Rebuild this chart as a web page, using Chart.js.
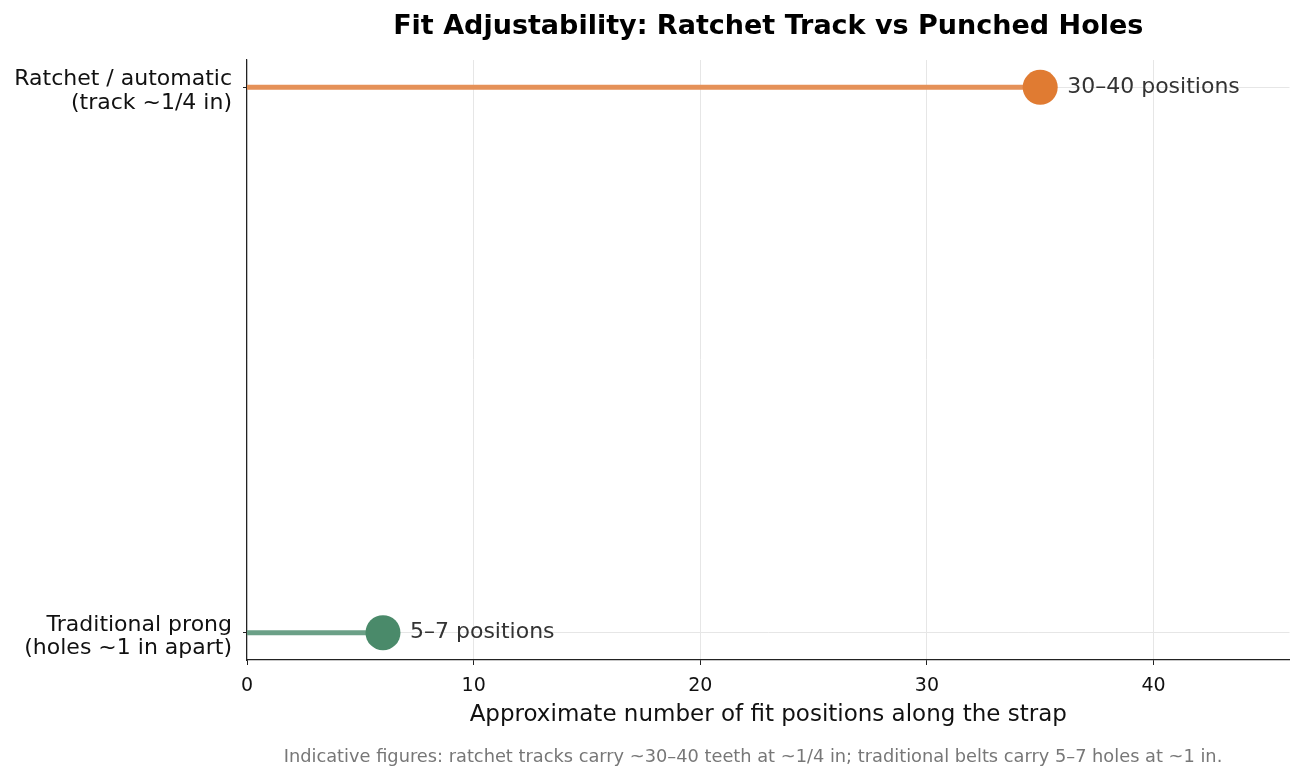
<!DOCTYPE html>
<html>
<head>
<meta charset="utf-8">
<script src="https://cdn.jsdelivr.net/npm/chart.js@4/dist/chart.umd.min.js"></script>
<style>
  body { margin: 0; background: #fff; }
</style>
</head>
<body>
<canvas id="chart" width="1307" height="781"></canvas>
<script>
// categories bottom to top (y = 0, 1)
var categories = [["Traditional prong", "(holes ~1 in apart)"], ["Ratchet / automatic", "(track ~1/4 in)"]];
var positions = [6, 35];
var valueLabels = ["5–7 positions", "30–40 positions"];
var dotColors = ["#4a8a6a", "#e07b32"];
var stemColors = ["#6ba087", "#e59158"];
var xTicks = [0, 10, 20, 30, 40];

var FONT = "'DejaVu Sans', sans-serif";

var datasets = [];
for (var i = 0; i < categories.length; i++) {
    datasets.push({
        data: [{x: 0, y: i}, {x: positions[i], y: i}],
        showLine: true,
        borderColor: stemColors[i],
        borderWidth: 5,
        pointRadius: 0,
        order: 2,
        clip: false
    });
}
for (var j = 0; j < categories.length; j++) {
    datasets.push({
        data: [{x: positions[j], y: j}],
        backgroundColor: dotColors[j],
        borderWidth: 0,
        pointRadius: 17.5,
        pointHoverRadius: 17.5,
        order: 1,
        clip: false
    });
}

var textPlugin = {
    id: 'texts',
    afterDatasetsDraw: function(chart) {
        var ctx = chart.ctx;
        var xs = chart.scales.x, ys = chart.scales.y;
        ctx.save();
        ctx.font = "22px " + FONT;
        ctx.fillStyle = "#333";
        ctx.textAlign = "left";
        ctx.textBaseline = "middle";
        for (var i = 0; i < positions.length; i++) {
            ctx.fillText(valueLabels[i], xs.getPixelForValue(positions[i]) + 27, ys.getPixelForValue(i));
        }
        // title
        var a = chart.chartArea;
        ctx.font = "bold 27px " + FONT;
        ctx.fillStyle = "#000";
        ctx.textAlign = "center";
        ctx.fillText("Fit Adjustability: Ratchet Track vs Punched Holes", (a.left + a.right) / 2, 27);
        // footnote
        ctx.font = "17.8px " + FONT;
        ctx.fillStyle = "#777";
        ctx.fillText("Indicative figures: ratchet tracks carry ~30–40 teeth at ~1/4 in; traditional belts carry 5–7 holes at ~1 in.", 753, 757);
        ctx.restore();
    }
};

new Chart(document.getElementById("chart"), {
    type: 'scatter',
    data: { datasets: datasets },
    options: {
        responsive: false,
        animation: false,
        layout: { padding: { left: 0, right: 10, top: 60, bottom: 41 } },
        plugins: {
            legend: { display: false },
            tooltip: { enabled: false }
        },
        scales: {
            x: {
                type: 'linear',
                min: 0,
                max: 46,
                afterBuildTicks: function(scale) {
                    scale.ticks = xTicks.map(function(v) { return {value: v}; });
                },
                afterFit: function(scale) {
                    scale.height = 80;
                    scale.paddingLeft = 0;
                    scale.paddingRight = 0;
                },
                ticks: {
                    font: { family: FONT, size: 19 },
                    color: "#111",
                    padding: 10,
                    maxRotation: 0,
                    callback: function(v) { return v; }
                },
                grid: { color: "#e6e6e6", tickColor: "#222", tickLength: 5 },
                border: { color: "#222", width: 1.2 },
                title: {
                    display: true,
                    text: "Approximate number of fit positions along the strap",
                    font: { family: FONT, size: 23 },
                    color: "#111",
                    padding: { top: 4, bottom: 11 }
                }
            },
            y: {
                type: 'linear',
                min: -0.05,
                max: 1.05,
                afterBuildTicks: function(scale) {
                    scale.ticks = categories.map(function(c, k) { return {value: k}; });
                },
                afterFit: function(scale) { scale.width = 247; },
                ticks: {
                    font: { family: FONT, size: 22, lineHeight: 1.05 },
                    color: "#111",
                    padding: 11,
                    labelOffset: 4,
                    callback: function(v) { return categories[v]; }
                },
                grid: { color: "#e6e6e6", tickColor: "#222", tickLength: 4 },
                border: { color: "#222", width: 1.2 }
            }
        }
    },
    plugins: [textPlugin]
});
</script>
</body>
</html>
